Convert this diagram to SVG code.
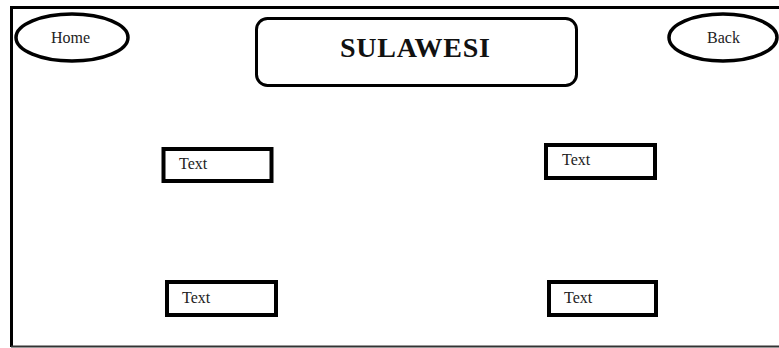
<svg xmlns="http://www.w3.org/2000/svg" width="779" height="348" viewBox="0 0 779 348">
<style>
.ln{fill:none;stroke:#000;stroke-width:3}
.box{fill:#fff;stroke:#000;stroke-width:4}
.ell{fill:#fff;stroke:#000;stroke-width:3.5}
.t{font-family:"Liberation Serif","Times New Roman",serif;font-size:16px;fill:#222}
.title{font-family:"Liberation Serif","Times New Roman",serif;font-size:28px;font-weight:bold;fill:#111}
</style>
<rect width="779" height="348" fill="#fff"/>
<g id="frame">
<path class="ln" d="M779 7.5H11.5V347"/>
<path d="M11 346.5H779" stroke="#333" stroke-width="2" fill="none"/>
</g>
<g id="home">
<ellipse class="ell" cx="72" cy="37.5" rx="56" ry="23.5"/>
<text class="t" x="51" y="43">Home</text>
</g>
<g id="title">
<rect x="256.5" y="18.5" width="320" height="67" rx="11" class="ln"/>
<text class="title" x="340" y="57" textLength="150" lengthAdjust="spacing">SULAWESI</text>
</g>
<g id="back">
<ellipse class="ell" cx="723" cy="37.5" rx="54" ry="23.5"/>
<text class="t" x="707" y="43">Back</text>
</g>
<g id="text1">
<rect class="box" x="163.5" y="149" width="108" height="32"/>
<text class="t" x="179" y="169">Text</text>
</g>
<g id="text2">
<rect class="box" x="546" y="145" width="109" height="33"/>
<text class="t" x="562" y="165">Text</text>
</g>
<g id="text3">
<rect class="box" x="167" y="282" width="109" height="33"/>
<text class="t" x="182" y="303">Text</text>
</g>
<g id="text4">
<rect class="box" x="549" y="282" width="107" height="33"/>
<text class="t" x="564" y="303">Text</text>
</g>
<g id="connectors"/>
</svg>
